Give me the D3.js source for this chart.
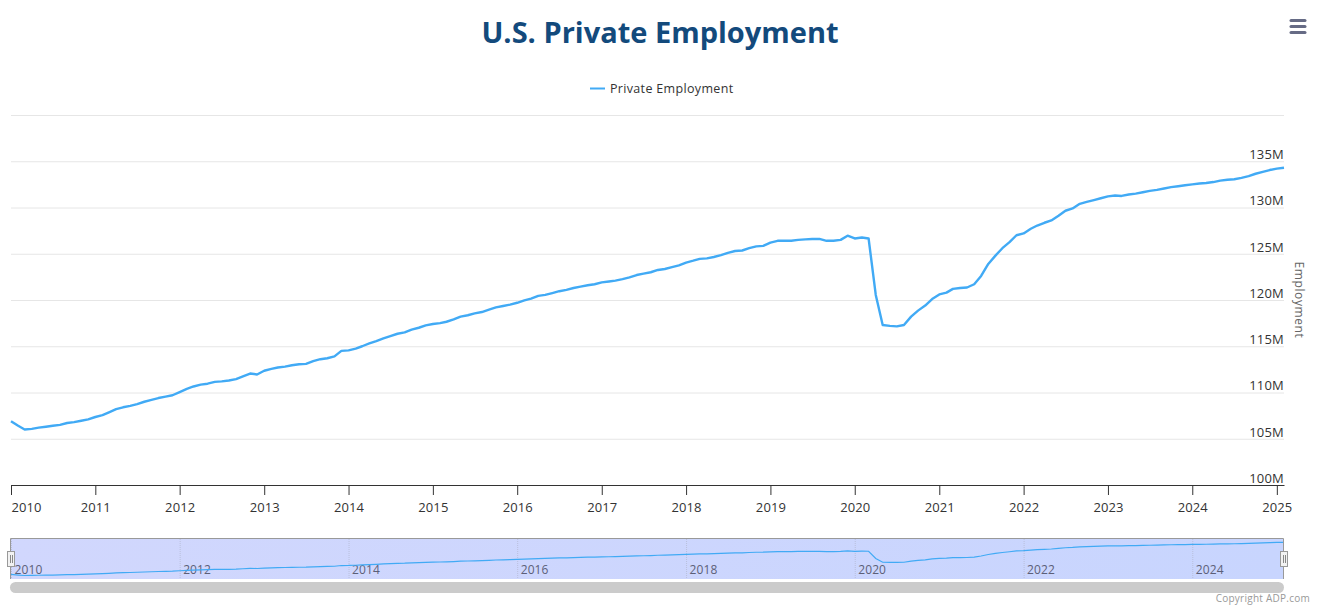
<!DOCTYPE html>
<html>
<head>
<meta charset="utf-8">
<script src="https://cdn.jsdelivr.net/npm/d3@7"></script>
<style>
  html, body { margin: 0; padding: 0; background: #fff; }
  svg { display: block; }
  text { font-family: "Open Sans", "Noto Sans", sans-serif; }
</style>
</head>
<body>
<svg id="chart" width="1324" height="612"></svg>
<script>
const title = "U.S. Private Employment" ;
const seriesName = "Private Employment" ;
const yTitle = "Employment" ;
const copyright = "Copyright ADP.com" ;

// monthly, millions. Jan 2010 to Feb 2025
const employment = [
  106.9, 106.4, 106.0, 106.07, 106.2, 106.3, 106.4, 106.5, 106.7, 106.8, 106.95, 107.1,
  107.35, 107.55, 107.85, 108.2, 108.4, 108.55, 108.75, 109.0, 109.2, 109.4, 109.55, 109.7,
  110.05, 110.4, 110.65, 110.85, 110.95, 111.15, 111.2, 111.3, 111.45, 111.75, 112.05, 111.95,
  112.35, 112.55, 112.7, 112.8, 112.95, 113.05, 113.1, 113.4, 113.6, 113.7, 113.9, 114.5,
  114.55, 114.75, 115.0, 115.3, 115.55, 115.85, 116.1, 116.35, 116.5, 116.8, 117.0, 117.25,
  117.4, 117.5, 117.65, 117.9, 118.2, 118.35, 118.55, 118.7, 118.95, 119.2, 119.35, 119.5,
  119.7, 119.95, 120.15, 120.45, 120.55, 120.75, 120.95, 121.1, 121.3, 121.45, 121.6, 121.7,
  121.9, 122.0, 122.1, 122.25, 122.45, 122.7, 122.85, 123.0, 123.25, 123.35, 123.55, 123.75,
  124.05, 124.25, 124.45, 124.5, 124.65, 124.85, 125.1, 125.3, 125.35, 125.6, 125.8, 125.85,
  126.2, 126.4, 126.4, 126.4, 126.5, 126.55, 126.6, 126.6, 126.4, 126.4, 126.5, 126.95,
  126.65, 126.75, 126.65, 120.55, 117.3, 117.2, 117.15, 117.3, 118.2, 118.85, 119.4, 120.1,
  120.6, 120.8, 121.2, 121.3, 121.35, 121.7, 122.6, 123.9, 124.8, 125.6, 126.25, 127.0,
  127.2, 127.7, 128.05, 128.35, 128.6, 129.1, 129.65, 129.9, 130.4, 130.6, 130.8, 131.0,
  131.2, 131.3, 131.25, 131.4, 131.5, 131.65, 131.8, 131.9, 132.05, 132.2, 132.3, 132.4,
  132.5, 132.6, 132.65, 132.75, 132.9, 133.0, 133.05, 133.2, 133.4, 133.65, 133.85, 134.05,
  134.2, 134.3
] ;
const yearTicks = d3.range(2010, 2026) ;
const navYearTicks = d3.range(2010, 2026, 2) ;
const yTicks = [100, 105, 110, 115, 120, 125, 130, 135, 140] ;

const dates = employment.map((v, i) => new Date(2010, i, 1)) ;
const yearDate = yr => new Date(yr, 0, 1) ;

const svg = d3.select("#chart") ;

const x = d3.scaleTime().domain([dates[0], dates[dates.length - 1]]).range([11, 1284]) ;
const y = d3.scaleLinear().domain([100, 140]).range([485, 115]) ;
const navY = d3.scaleLinear().domain([d3.min(employment), d3.max(employment)]).range([575.5, 542.3]) ;

// title, menu, legend
svg.append("text")
  .attr("x", 660).attr("y", 43)
  .attr("text-anchor", "middle")
  .attr("font-size", 29).attr("font-weight", 700)
  .attr("fill", "#134a7c")
  .text(title) ;

svg.selectAll("line.menu")
  .data([20.5, 26.5, 32.5])
  .enter().append("line")
    .attr("class", "menu")
    .attr("x1", 1291).attr("x2", 1305)
    .attr("y1", d => d).attr("y2", d => d)
    .attr("stroke", "#666b85").attr("stroke-width", 3).attr("stroke-linecap", "round") ;

svg.append("line")
  .attr("x1", 590).attr("x2", 605).attr("y1", 88.5).attr("y2", 88.5)
  .attr("stroke", "#41aaf5").attr("stroke-width", 2) ;
svg.append("text")
  .attr("x", 610).attr("y", 93)
  .attr("font-size", 12.5).attr("letter-spacing", 0.33)
  .attr("fill", "#333")
  .text(seriesName) ;

// y axis: gridlines with the labels sitting on top of them at the right
const yAxis = svg.append("g")
  .attr("transform", "translate(1284,0)")
  .call(d3.axisLeft(y).tickValues(yTicks).tickSize(1273).tickFormat(d => d === 140 ? "" : `${d}M`)) ;
yAxis.select(".domain").remove() ;
yAxis.selectAll(".tick line").attr("stroke", "#e6e6e6") ;
yAxis.selectAll(".tick text")
  .attr("x", 0).attr("dy", -2.6).attr("text-anchor", "end")
  .attr("font-size", 13).attr("letter-spacing", 0.2)
  .attr("font-family", null)
  .attr("fill", "#333") ;

svg.append("text")
  .attr("transform", "translate(1295,300) rotate(90)")
  .attr("text-anchor", "middle")
  .attr("font-size", 12).attr("letter-spacing", 0.6).attr("fill", "#666")
  .text(yTitle) ;

// x axis
const xAxis = svg.append("g")
  .attr("transform", "translate(0,485)")
  .call(d3.axisBottom(x).tickValues(yearTicks.map(yearDate)).tickSize(10).tickPadding(8).tickFormat(d3.timeFormat("%Y")).tickSizeOuter(0)) ;
xAxis.select(".domain").attr("stroke", "#333") ;
xAxis.selectAll(".tick line").attr("stroke", "#333") ;
xAxis.selectAll(".tick text")
  .attr("font-size", 13).attr("letter-spacing", 0.1)
  .attr("font-family", null)
  .attr("fill", "#333")
  .attr("text-anchor", d => d.getFullYear() === 2010 ? "start" : "middle") ;

// the series
const line = d3.line().x((d, i) => x(dates[i])).y(d => y(d)) ;
svg.append("path")
  .datum(employment)
  .attr("d", line)
  .attr("fill", "none")
  .attr("stroke", "#41aaf5").attr("stroke-width", 2.4).attr("stroke-linejoin", "round") ;

// navigator
const grad = svg.append("defs").append("linearGradient").attr("id", "navFill") ;
grad.append("stop").attr("offset", "0%").attr("stop-color", "#d1d7fd") ;
grad.append("stop").attr("offset", "100%").attr("stop-color", "#c8d5fe") ;

svg.append("rect")
  .attr("x", 11).attr("y", 539).attr("width", 1273).attr("height", 40)
  .attr("fill", "url(#navFill)") ;

const navAxis = svg.append("g")
  .attr("transform", "translate(0,539)")
  .call(d3.axisBottom(x).tickValues(navYearTicks.map(yearDate)).tickSize(40).tickFormat(d3.timeFormat("%Y")).tickSizeOuter(0)) ;
navAxis.select(".domain").remove() ;
navAxis.selectAll(".tick line").attr("stroke", "#b9bfdc").attr("stroke-dasharray", "1,1") ;
navAxis.selectAll(".tick text")
  .attr("y", 35).attr("dy", 0).attr("x", 3)
  .attr("text-anchor", "start")
  .attr("font-size", 12).attr("letter-spacing", 0.1)
  .attr("font-family", null)
  .attr("fill", "#5c5f78") ;

const navLine = d3.line().x((d, i) => x(dates[i])).y(d => navY(d)) ;
svg.append("path")
  .datum(employment)
  .attr("d", navLine)
  .attr("fill", "none")
  .attr("stroke", "#41aaf5").attr("stroke-width", 1.2) ;

svg.append("path")
  .attr("d", "M10.5,579 V538.5 H1283.5 V579")
  .attr("fill", "none").attr("stroke", "#999") ;

// navigator handles
[7, 1280].forEach((hx) => {
  const h = svg.append("g").attr("transform", `translate(${hx},551)`) ;
  h.append("rect")
    .attr("x", 0.5).attr("y", 0.5).attr("width", 7).attr("height", 15)
    .attr("fill", "#f2f2f2").attr("stroke", "#999") ;
  [3, 5].forEach((lx) => {
    h.append("line")
      .attr("x1", lx + 0.5).attr("x2", lx + 0.5).attr("y1", 4).attr("y2", 12)
      .attr("stroke", "#888") ;
  }) ;
}) ;

// scrollbar
svg.append("rect")
  .attr("x", 10).attr("y", 582).attr("width", 1274).attr("height", 11).attr("rx", 5.5)
  .attr("fill", "#cbcbcb") ;

svg.append("text")
  .attr("x", 1310).attr("y", 602)
  .attr("text-anchor", "end")
  .attr("font-size", 10).attr("letter-spacing", 0.25)
  .attr("fill", "#999")
  .text(copyright) ;
</script>
</body>
</html>
